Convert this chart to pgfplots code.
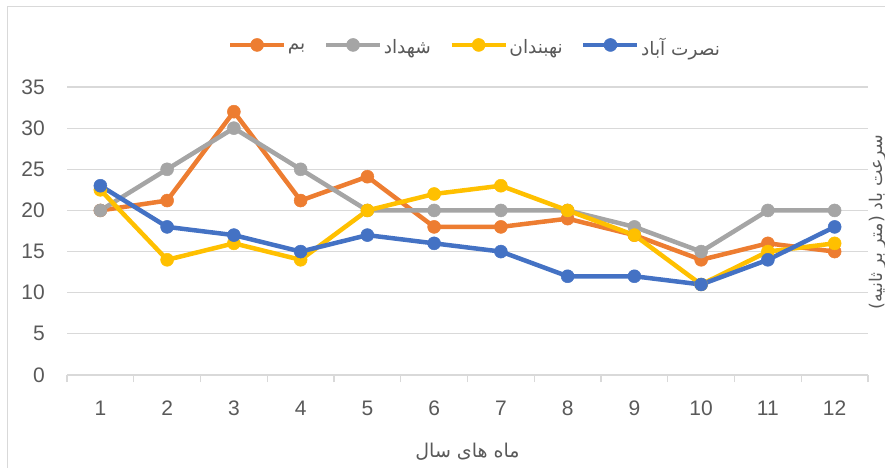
\documentclass[border=0pt]{standalone}
\usepackage{pgfplots}
\pgfplotsset{compat=1.18}
\usepackage{fontspec}
\setmainfont{Liberation Sans}
\newfontfamily\arfont[Script=Arabic]{DejaVu Sans}
\TeXXeTstate=1
\definecolor{cOr}{HTML}{ED7D31}
\definecolor{cGr}{HTML}{A5A5A5}
\definecolor{cYe}{HTML}{FFC000}
\definecolor{cBl}{HTML}{4472C4}
\definecolor{cGrid}{HTML}{D9D9D9}
\definecolor{cTxt}{HTML}{595959}
\newcommand{\leg}[1]{\raisebox{-5pt}{\arfont\beginR #1\endR}}
\begin{document}
\begin{tikzpicture}
\useasboundingbox (0,0) rectangle (885pt,467pt);
\draw[color=cGrid, line width=1pt] (7.5pt,-2pt) -- (7.5pt,460pt) -- (890pt,460pt);
\begin{axis}[
  at={(67pt,92pt)}, anchor=south west,
  scale only axis, width=801pt, height=288pt,
  xmin=0.5, xmax=12.5, ymin=0, ymax=35,
  xtick={1,...,12}, ytick={0,5,...,35},
  minor xtick={0.5,1.5,...,12.5},
  axis x line*=bottom, axis y line*=left,
  axis line style={-},
  y axis line style={draw=none},
  x axis line style={draw=cGrid, line width=1.2pt},
  ymajorgrids, xmajorgrids=false, xminorgrids=false,
  grid style={cGrid, line width=1.2pt},
  major tick length=0pt, minor tick length=7pt, tick align=outside,
  minor tick style={cGrid, line width=1.2pt},
  major tick style={draw=none},
  /pgf/number format/assume math mode=true,
  tick label style={font=\fontsize{21}{24}\selectfont, text=cTxt},
  xticklabel style={anchor=center, inner sep=0pt, yshift=-33pt},
  yticklabel style={anchor=east, inner sep=0pt, xshift=-22pt},
  xlabel={\arfont\beginR ماه های سال\endR},
  xlabel style={at={(axis description cs:0.5,-0.265)}, anchor=center, font=\fontsize{19}{22}\selectfont, text=cTxt},
  ylabel={\arfont\beginR سرعت باد (متر بر ثانیه)\endR},
  ylabel style={at={(axis description cs:1.012,0.531)}, anchor=center, font=\fontsize{17.5}{20}\selectfont, text=cTxt},
  legend columns=4,
  legend style={at={(axis description cs:0.509,1.146)}, anchor=center, draw=none, fill=none,
    font=\fontsize{18.5}{22}\selectfont, text=cTxt,
    nodes={inner sep=1.5pt},
    /tikz/every odd column/.append style={column sep=0pt},
    /tikz/every even column/.append style={column sep=17pt}},
  legend image code/.code={\draw[mark repeat=2,mark phase=2] plot coordinates {(0pt,0pt)(27pt,0pt)(54pt,0pt)};},
  every axis plot/.append style={line width=4.5pt, mark=*, mark size=6.5pt},
]
\addplot[color=cOr, mark options={solid, fill=cOr, line width=0.5pt}] coordinates {
(1,20) (2,21.2) (3,32) (4,21.2) (5,24.1) (6,18) (7,18) (8,19) (9,17) (10,14) (11,16) (12,15)};
\addlegendentry{\leg{بم}}
\addplot[color=cGr, mark options={solid, fill=cGr, line width=0.5pt}] coordinates {
(1,20) (2,25) (3,30) (4,25) (5,20) (6,20) (7,20) (8,20) (9,18) (10,15) (11,20) (12,20)};
\addlegendentry{\leg{شهداد}}
\addplot[color=cYe, mark options={solid, fill=cYe, line width=0.5pt}] coordinates {
(1,22.5) (2,14) (3,16) (4,14) (5,20) (6,22) (7,23) (8,20) (9,17) (10,11) (11,15) (12,16)};
\addlegendentry{\leg{نهبندان}}
\addplot[color=cBl, mark options={solid, fill=cBl, line width=0.5pt}] coordinates {
(1,23) (2,18) (3,17) (4,15) (5,17) (6,16) (7,15) (8,12) (9,12) (10,11) (11,14) (12,18)};
\addlegendentry{\leg{نصرت آباد}}
\end{axis}
\end{tikzpicture}
\end{document}
